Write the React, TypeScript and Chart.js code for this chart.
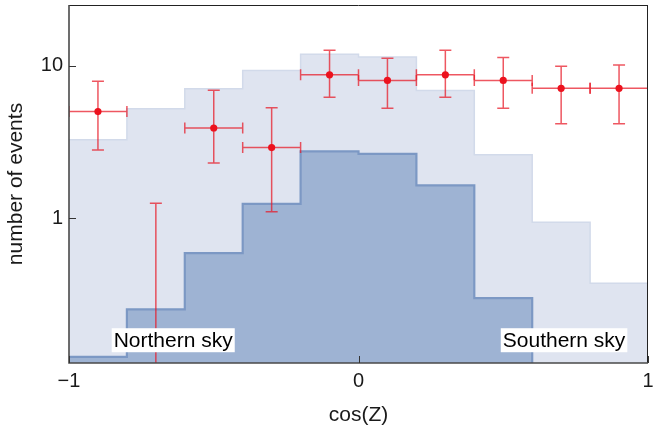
import { useEffect, useRef } from 'react';
import { Chart, registerables } from 'chart.js';

Chart.register(...registerables);

// ---- data ----
const BIN_EDGES = [-1, -0.8, -0.6, -0.4, -0.2, 0, 0.2, 0.4, 0.6, 0.8, 1];
const BIN_CENTERS = [-0.9, -0.7, -0.5, -0.3, -0.1, 0.1, 0.3, 0.5, 0.7, 0.9];
const BIN_HALF_WIDTH = 0.1;
const EXPECTED_TOTAL = [3.27, 5.22, 7.06, 9.31, 11.9, 11.4, 6.88, 2.6, 0.94, 0.374];
const EXPECTED_SIGNAL = [0.123, 0.252, 0.589, 1.24, 2.74, 2.64, 1.64, 0.298, 0, 0];
const OBSERVED = [5.0, 0, 3.9, 2.9, 8.7, 8.0, 8.7, 8.0, 7.1, 7.1];
const OBS_UPPER = [7.9, 1.25, 6.9, 5.3, 12.6, 11.2, 12.6, 11.3, 9.9, 10.1];
const OBS_LOWER = [2.8, 0, 2.3, 1.1, 6.2, 5.25, 6.2, 5.25, 4.15, 4.15];
const X_TICKS = [-1, 0, 1];
const Y_TICKS = [1, 10];
const Y_MIN = 0.112;
const Y_MAX = 25;
const REGION_LABELS = ['Northern sky', 'Southern sky'];
const REGION_LABEL_X = [-0.64, 0.71];
const REGION_LABEL_Y = 0.158;

const FONT = '"Liberation Sans", Arial, Helvetica, sans-serif';
const TEXT = '#1a1a1a';

// each edge point carries the value of the bin that starts there (last edge repeats the last bin)
function stepData(vals: number[]) {
  return BIN_EDGES.map((x, i) => {
    const v = vals[Math.min(i, vals.length - 1)];
    return { x, y: v > 0 ? v : Y_MIN / 2 };
  });
}

const overlay = {
  id: 'overlay',
  afterDatasetDraw(chart: any, args: any) {
    if (args.index !== 1) return;
    const { ctx, chartArea: ca } = chart;
    const xs = chart.scales.x;
    const ys = chart.scales.y;
    ctx.save();
    ctx.beginPath();
    ctx.rect(ca.left, ca.top, ca.right - ca.left, ca.bottom - ca.top);
    ctx.clip();
    ctx.strokeStyle = 'rgba(232, 22, 36, 0.72)';
    ctx.lineWidth = 1.5;
    BIN_CENTERS.forEach((c, i) => {
      const px = xs.getPixelForValue(c);
      const yHi = ys.getPixelForValue(OBS_UPPER[i]);
      const yLo = OBS_LOWER[i] > 0 ? ys.getPixelForValue(OBS_LOWER[i]) : ca.bottom + 5;
      ctx.beginPath();
      ctx.moveTo(px, yHi);
      ctx.lineTo(px, yLo);
      ctx.moveTo(px - 6, yHi);
      ctx.lineTo(px + 6, yHi);
      if (OBS_LOWER[i] > 0) {
        ctx.moveTo(px - 6, yLo);
        ctx.lineTo(px + 6, yLo);
      }
      if (OBSERVED[i] > 0) {
        const py = ys.getPixelForValue(OBSERVED[i]);
        const xl = xs.getPixelForValue(c - BIN_HALF_WIDTH);
        const xr = xs.getPixelForValue(c + BIN_HALF_WIDTH);
        ctx.moveTo(xl, py);
        ctx.lineTo(xr, py);
        ctx.moveTo(xl, py - 5.5);
        ctx.lineTo(xl, py + 5.5);
        ctx.moveTo(xr, py - 5.5);
        ctx.lineTo(xr, py + 5.5);
      }
      ctx.stroke();
    });
    ctx.restore();
  },
  afterDatasetsDraw(chart: any) {
    const { ctx } = chart;
    const xs = chart.scales.x;
    const ys = chart.scales.y;
    ctx.save();
    ctx.font = `21px ${FONT}`;
    ctx.textAlign = 'center';
    ctx.textBaseline = 'middle';
    REGION_LABELS.forEach((t, i) => {
      const cx = xs.getPixelForValue(REGION_LABEL_X[i]);
      const cy = ys.getPixelForValue(REGION_LABEL_Y);
      const w = ctx.measureText(t).width + 4;
      ctx.fillStyle = '#ffffff';
      ctx.fillRect(cx - w / 2, cy - 12, w, 24);
      ctx.fillStyle = '#000000';
      ctx.fillText(t, cx, cy + 1);
    });
    ctx.restore();
  },
  afterDraw(chart: any) {
    const { ctx, chartArea: ca } = chart;
    const xs = chart.scales.x;
    const ys = chart.scales.y;
    ctx.save();
    ctx.strokeStyle = '#222';
    ctx.lineWidth = 1;
    ctx.beginPath();
    ctx.moveTo(ca.left, ca.top + 0.5);
    ctx.lineTo(ca.right, ca.top + 0.5);
    ctx.moveTo(ca.right - 0.5, ca.top);
    ctx.lineTo(ca.right - 0.5, ca.bottom);
    ctx.stroke();
    ctx.strokeStyle = '#4a4a4a';
    ctx.lineWidth = 1.6;
    ctx.beginPath();
    ctx.moveTo(ca.left, ca.top);
    ctx.lineTo(ca.left, ca.bottom);
    ctx.lineTo(ca.right, ca.bottom);
    ctx.stroke();
    ctx.lineWidth = 1;
    ctx.strokeStyle = '#333';
    ctx.beginPath();
    Y_TICKS.forEach((v) => {
      const py = Math.round(ys.getPixelForValue(v)) + 0.5;
      ctx.moveTo(ca.left, py);
      ctx.lineTo(ca.left + 7, py);
    });
    X_TICKS.forEach((v) => {
      const px = Math.round(xs.getPixelForValue(v)) + 0.5;
      ctx.moveTo(px, ca.bottom);
      ctx.lineTo(px, ca.bottom - 7);
    });
    ctx.stroke();
    ctx.restore();
  },
};

export default function App() {
  const ref = useRef<HTMLCanvasElement | null>(null);
  useEffect(() => {
    if (!ref.current) return;
    const chart = new Chart(ref.current, {
      type: 'line',
      data: {
        datasets: [
          {
            label: 'total',
            data: stepData(EXPECTED_TOTAL),
            stepped: 'before',
            fill: 'start',
            backgroundColor: 'rgb(223, 228, 240)',
            borderColor: 'rgb(210, 218, 234)',
            borderWidth: 1.5,
            pointRadius: 0,
            order: 2,
          },
          {
            label: 'signal',
            data: stepData(EXPECTED_SIGNAL),
            stepped: 'before',
            fill: 'start',
            backgroundColor: 'rgb(158, 179, 211)',
            borderColor: 'rgb(124, 152, 196)',
            borderWidth: 2.2,
            pointRadius: 0,
            order: 1,
          },
          {
            label: 'observed',
            data: BIN_CENTERS.map((x, i) => ({ x, y: OBSERVED[i] })),
            showLine: false,
            pointRadius: 3.6,
            pointBackgroundColor: 'rgb(236, 18, 30)',
            pointBorderWidth: 0,
            pointBorderColor: 'rgb(236, 18, 30)',
            order: 0,
          },
        ] as any,
      },
      options: {
        animation: false,
        responsive: false,
        events: [],
        layout: { padding: { left: 0, right: 5, top: 5, bottom: 0 } },
        plugins: { legend: { display: false }, tooltip: { enabled: false } },
        scales: {
          x: {
            type: 'linear',
            min: -1,
            max: 1,
            bounds: 'data',
            afterBuildTicks: (s: any) => {
              s.ticks = X_TICKS.map((v) => ({ value: v }));
            },
            afterFit: (s: any) => {
              s.height = 71;
              s.paddingLeft = 0;
              s.paddingRight = 0;
            },
            grid: { display: false, drawTicks: false },
            border: { display: false },
            ticks: {
              padding: 6,
              color: TEXT,
              font: { family: FONT, size: 20 },
              maxRotation: 0,
              autoSkip: false,
              callback: (v: any) => (v < 0 ? '\u2212' + Math.abs(v) : String(v)),
            },
            title: {
              display: true,
              text: 'cos(Z)',
              color: TEXT,
              font: { family: FONT, size: 21 },
              padding: { top: 0, bottom: 6 },
            },
          },
          y: {
            type: 'logarithmic',
            min: Y_MIN,
            max: Y_MAX,
            bounds: 'data',
            afterBuildTicks: (s: any) => {
              s.ticks = Y_TICKS.map((v) => ({ value: v }));
            },
            afterFit: (s: any) => {
              s.width = 69;
              s.paddingTop = 0;
              s.paddingBottom = 0;
            },
            grid: { display: false, drawTicks: false },
            border: { display: false },
            ticks: {
              padding: 6,
              color: TEXT,
              font: { family: FONT, size: 20 },
              autoSkip: false,
              callback: (v: any) => String(v),
            },
            title: {
              display: true,
              text: 'number of events',
              color: TEXT,
              font: { family: FONT, size: 21 },
              padding: { top: 4, bottom: 0 },
            },
          },
        },
      } as any,
      plugins: [overlay],
    });
    return () => chart.destroy();
  }, []);
  return (
    <div style={{ position: 'absolute', left: 0, top: 0, width: 653, height: 434 }}>
      <canvas ref={ref} width={653} height={434} style={{ width: 653, height: 434 }} />
    </div>
  );
}
